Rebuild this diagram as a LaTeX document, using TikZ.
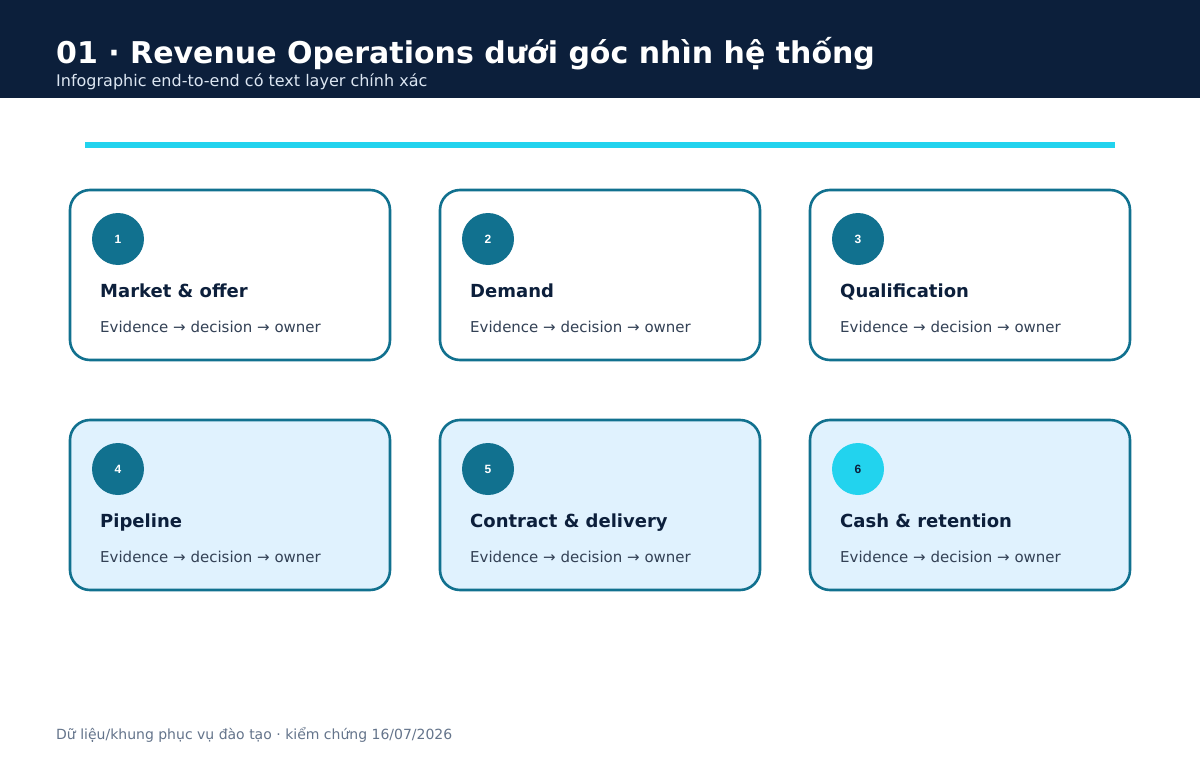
\documentclass[tikz,border=0pt]{standalone}
\usepackage{fontspec}
\setmainfont{DejaVu Sans}
\newfontfamily\numfont{Liberation Sans}
\usepackage{tikz}
\usetikzlibrary{positioning}
\definecolor{navy}{HTML}{0C1F3B}
\definecolor{teal}{HTML}{11718F}
\definecolor{cyanbar}{HTML}{22D3EE}
\definecolor{paleblue}{HTML}{E0F2FE}
\definecolor{bodytext}{HTML}{334155}
\definecolor{subtext}{HTML}{DCE6F2}
\definecolor{foottext}{HTML}{64748B}
\tikzset{
  card/.style   = {draw=teal, line width=2.6pt, rounded corners=20pt, rectangle,
                   minimum width=320pt, minimum height=170pt, fill=white},
  card2/.style  = {card, fill=paleblue},
  badge/.style  = {circle, fill=teal, draw=none, minimum size=52pt, inner sep=0pt,
                   text=white, font=\numfont\bfseries\fontsize{12}{14}\selectfont},
  head/.style   = {anchor=base west, inner sep=0pt, text=navy,
                   font=\bfseries\fontsize{18}{22}\selectfont},
  body/.style   = {anchor=base west, inner sep=0pt, text=bodytext,
                   font=\fontsize{15}{18}\selectfont}
}
\newcommand{\flow}{Evidence → decision → owner}

\begin{document}
\begin{tikzpicture}[x=1pt,y=-1pt]
      \useasboundingbox[fill=white] (0,0) rectangle (1200,760);
      % header band
      \fill[navy] (0,0) rectangle (1200,98);
      \node[anchor=base west, inner sep=0pt, text=white,
            font=\bfseries\fontsize{30}{36}\selectfont] (title) at (56,64)
            {01 · Revenue Operations dưới góc nhìn hệ thống};
      \node[anchor=base west, inner sep=0pt, text=subtext,
            font=\fontsize{16}{19}\selectfont] (subtitle) at (56,87)
            {Infographic end-to-end có text layer chính xác};
      \fill[cyanbar] (85,142) rectangle (1115,148);
      % first row
      \node[card] (c1) at (230,275) {};
      \node[card] (c2) at (600,275) {};
      \node[card] (c3) at (970,275) {};
      \node[badge] (b1) at (118,239) {1};
      \node[badge] (b2) at (488,239) {2};
      \node[badge] (b3) at (858,239) {3};
      \node[head] (h1) at (100,297) {Market \& offer};
      \node[head] (h2) at (470,297) {Demand};
      \node[head] (h3) at (840,297) {Qualification};
      \node[body] (t1) at (100,332) {\flow};
      \node[body] (t2) at (470,332) {\flow};
      \node[body] (t3) at (840,332) {\flow};
      % second row
      \node[card2] (c4) at (230,505) {};
      \node[card2] (c5) at (600,505) {};
      \node[card2] (c6) at (970,505) {};
      \node[badge] (b4) at (118,469) {4};
      \node[badge] (b5) at (488,469) {5};
      \node[badge, fill=cyanbar, text=navy] (b6) at (858,469) {6};
      \node[head] (h4) at (100,527) {Pipeline};
      \node[head] (h5) at (470,527) {Contract \& delivery};
      \node[head] (h6) at (840,527) {Cash \& retention};
      \node[body] (t4) at (100,562) {\flow};
      \node[body] (t5) at (470,562) {\flow};
      \node[body] (t6) at (840,562) {\flow};
      % footer
      \node[anchor=base west, inner sep=0pt, text=foottext,
            font=\fontsize{14}{17}\selectfont] (foot) at (56,739)
            {Dữ liệu/khung phục vụ đào tạo · kiểm chứng 16/07/2026};
\end{tikzpicture}
\end{document}
